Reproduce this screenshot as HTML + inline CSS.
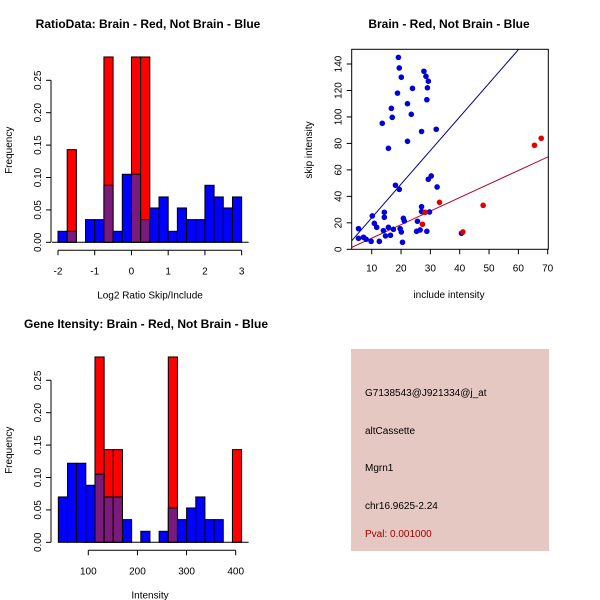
<!DOCTYPE html>
<html><head><meta charset="utf-8"><style>
body{margin:0;background:#fff}
svg{display:block;font-family:"Liberation Sans",sans-serif}
</style></head><body>
<svg id="c" width="600" height="600" xmlns="http://www.w3.org/2000/svg">
<rect width="600" height="600" fill="#fff"/>
<g id="p1"></g>
<g id="p2"></g>
<g id="p3"></g>
<g>
<rect x="351" y="349" width="198" height="202" fill="#e5c8c2"/>
<text x="365" y="396" font-size="10" fill="#000">G7138543@J921334@j_at</text>
<text x="365" y="434" font-size="10" fill="#000">altCassette</text>
<text x="365" y="471" font-size="10" fill="#000">Mgrn1</text>
<text x="365" y="509" font-size="10" fill="#000">chr16.9625-2.24</text>
<text x="365" y="537" font-size="10" fill="#a00000">Pval: 0.001000</text>
</g>
</svg>
<script>
// ---- data: ratio histogram ----
const ratioBinStart = -2;
const ratioBinWidth = 0.25;
const ratioBlue = [0.017,0.017,0,0.035,0.035,0.088,0.017,0.105,0.105,0.035,0.053,0.070,0.017,0.053,0.035,0.035,0.088,0.070,0.053,0.070];
const ratioRed  = [0,0.143,0,0,0,0.286,0,0,0.286,0.286,0,0,0,0,0,0,0,0,0,0];
const ratioXTicks = [-2,-1,0,1,2,3];
const freqTicks = [0,0.05,0.10,0.15,0.20,0.25];
const freqTickLabels = ["0.00","0.05","0.10","0.15","0.20","0.25"];
// ---- data: intensity histogram ----
const intBinStart = 39;
const intBinWidth = 18.65;
const intBlue = [0.070,0.122,0.122,0.088,0.105,0.070,0.070,0.035,0,0.017,0,0.017,0.053,0.035,0.053,0.070,0.035,0.035,0,0];
const intRed  = [0,0,0,0,0.286,0.143,0.143,0,0,0,0,0,0.286,0,0,0,0,0,0,0.143];
const intXTicks = [100,200,300,400];
// ---- data: scatter ----
const blueInclude = [19.1,19.4,20.1,18.8,27.8,28.5,29.3,29.0,28.8,23.9,22.2,23.5,16.7,17.0,13.6,27.0,32.0,22.2,15.7,18.1,19.4,30.3,29.3,32.3,10.2,14.3,14.3,10.9,11.7,5.5,14.0,15.7,17.4,14.7,16.4,19.7,20.1,20.8,21.1,25.6,27.0,27.0,29.7,25.3,26.5,28.8,20.5,12.6,9.8,5.5,7.2,8.1,40.6];
const blueSkip = [145,137,130,118,134.5,130.7,127,122,113,121.6,110,102,106.5,99.7,95.2,89,90.7,81.6,76.3,48.4,45.3,55.4,52.9,47.1,25.2,28,24.2,19.6,16.6,15.6,14.1,16.6,15.1,10.1,10.6,15.6,13.1,23.4,21.4,21.2,32.2,28.5,28.2,13.6,14.6,13.6,5.3,6,6,8.3,9.1,7.6,12.1];
const redInclude = [27.3,28.2,33.1,48,41.1,65.5,67.8];
const redSkip = [18.9,28,35.5,33.2,13.1,78.6,83.9];
const blueFit = [-1.6,2.54];   // intercept, slope
const redFit = [-1.8,1.022];
const scatXTicks = [10,20,30,40,50,60,70];
const scatYTicks = [0,20,40,60,80,100,120,140];

const NS="http://www.w3.org/2000/svg";
function mk(parent,tag,attrs,txt){const e=document.createElementNS(NS,tag);for(const k in attrs)e.setAttribute(k,attrs[k]);if(txt!==undefined)e.textContent=txt;parent.appendChild(e);return e;}

function hist(g,o){
  const X=v=>o.x0+(v-o.xv0)*o.xs, Y=v=>o.y0-v*648;
  for(let i=0;i<o.blue.length;i++){
    const a=o.start+i*o.w,b=a+o.w,bv=o.blue[i],rv=o.red[i];
    if(rv>0){const r=mk(g,'rect',{x:X(a),y:Y(rv),width:X(b)-X(a),height:Y(0)-Y(rv),fill:'#ff0000',stroke:'#000','stroke-width':1});
      
      }
    if(bv>0){const f=rv>0?'#7a1a7a':'#0000ff';const r=mk(g,'rect',{x:X(a),y:Y(bv),width:X(b)-X(a),height:Y(0)-Y(bv),fill:f,stroke:'#000','stroke-width':1});
      
      }
  }
  // baseline
  mk(g,'line',{x1:o.x0-6,x2:X(o.start+o.blue.length*o.w)+7,y1:Y(0),y2:Y(0),stroke:'#000'});
  // y axis
  mk(g,'line',{x1:o.ax,x2:o.ax,y1:Y(0),y2:Y(0.25),stroke:'#000'});
  freqTicks.forEach((t,i)=>{mk(g,'line',{x1:o.ax-5,x2:o.ax,y1:Y(t),y2:Y(t),stroke:'#000'});
    const tx=mk(g,'text',{x:o.ax-10,y:Y(t),'font-size':10,'text-anchor':'middle',transform:`rotate(-90 ${o.ax-10} ${Y(t)})`},freqTickLabels[i]);
    
    });
  // x axis
  const ay=o.y0+8;
  mk(g,'line',{x1:X(o.ticks[0]),x2:X(o.ticks[o.ticks.length-1]),y1:ay,y2:ay,stroke:'#000'});
  o.ticks.forEach(t=>{mk(g,'line',{x1:X(t),x2:X(t),y1:ay,y2:ay+5,stroke:'#000'});
    const tx=mk(g,'text',{x:X(t),y:ay+24,'font-size':10,'text-anchor':'middle'},String(t));
    
    });
  const xl=mk(g,'text',{x:150,y:o.y0+56,'font-size':10,'text-anchor':'middle'},o.xlab);
  
  
  const yl=mk(g,'text',{x:12,y:o.y0-92,'font-size':10,'text-anchor':'middle',transform:`rotate(-90 12 ${o.y0-92})`},'Frequency');
  
  
  const ti=mk(g,'text',{x:o.tx,y:o.ty,'font-size':12,'font-weight':'bold','text-anchor':'middle'},o.title);
  
  
}
hist(document.getElementById('p1'),{x0:58,xv0:-2,xs:36.73,y0:242.3,ax:51,start:ratioBinStart,w:ratioBinWidth,blue:ratioBlue,red:ratioRed,ticks:ratioXTicks,xlab:'Log2 Ratio Skip/Include',title:'RatioData: Brain - Red, Not Brain - Blue',tx:148,ty:28});
hist(document.getElementById('p3'),{x0:88.3,xv0:100,xs:0.4913,y0:542.3,ax:51,start:intBinStart,w:intBinWidth,blue:intBlue,red:intRed,ticks:intXTicks,xlab:'Intensity',title:'Gene Itensity: Brain - Red, Not Brain - Blue',tx:146,ty:328});

// scatter
(function(){
  const g=document.getElementById('p2');
  const X=v=>371.7+(v-10)*2.933, Y=v=>249.3-v*1.3236;
  const L=351.7,R=548.3,T=49.3,B=249.3;
  mk(g,'defs',{}).innerHTML='<clipPath id="cl"><rect x="351.7" y="49.3" width="196.6" height="200"/></clipPath>';
  const gc=mk(g,'g',{'clip-path':'url(#cl)'});
  const line=(f,c,n)=>{const l=mk(gc,'line',{x1:X(0),y1:Y(f[0]),x2:X(80),y2:Y(f[0]+f[1]*80),stroke:c,'stroke-width':1});
    
    };
  line(blueFit,'#00008b','blue-fit-line');
  line(redFit,'#b00020','red-fit-line');
  blueInclude.forEach((v,i)=>{const c=mk(g,'circle',{cx:X(v),cy:Y(blueSkip[i]),r:2.8,fill:'#0000dd'});
    
    });
  redInclude.forEach((v,i)=>{const c=mk(g,'circle',{cx:X(v),cy:Y(redSkip[i]),r:2.8,fill:'#e00000'});
    
    });
  mk(g,'rect',{x:L,y:T,width:R-L,height:B-T,fill:'none',stroke:'#000'});
  scatXTicks.forEach(t=>{mk(g,'line',{x1:X(t),x2:X(t),y1:B,y2:B+5,stroke:'#000'});
    const tx=mk(g,'text',{x:X(t),y:B+22,'font-size':10,'text-anchor':'middle'},String(t));
    
    });
  scatYTicks.forEach(t=>{mk(g,'line',{x1:L-5,x2:L,y1:Y(t),y2:Y(t),stroke:'#000'});
    const tx=mk(g,'text',{x:L-10,y:Y(t),'font-size':10,'text-anchor':'middle',transform:`rotate(-90 ${L-10} ${Y(t)})`},String(t));
    
    });
  const xl=mk(g,'text',{x:449,y:298,'font-size':10,'text-anchor':'middle'},'include intensity');
  
  
  const yl=mk(g,'text',{x:312,y:150,'font-size':10,'text-anchor':'middle',transform:'rotate(-90 312 150)'},'skip intensity');
  
  
  const ti=mk(g,'text',{x:449,y:28,'font-size':12,'font-weight':'bold','text-anchor':'middle'},'Brain - Red, Not Brain - Blue');
  
  
})();
</script>
</body></html>
